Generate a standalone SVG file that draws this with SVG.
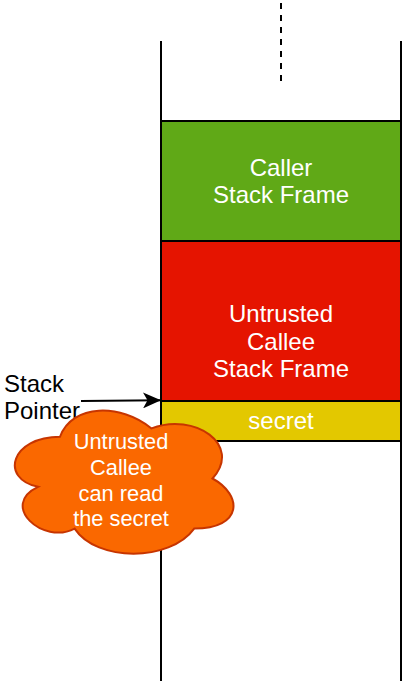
<svg xmlns="http://www.w3.org/2000/svg" width="404" height="684" viewBox="0 0 404 684">
<style>
.ln{stroke:#000;stroke-width:2;fill:none}
.box{stroke:#000;stroke-width:2}
.t{font-family:"Liberation Sans",Arial,sans-serif;font-size:24px;fill:#fff;text-anchor:middle}
.tc{font-family:"Liberation Sans",Arial,sans-serif;font-size:21.8px;fill:#fff;text-anchor:middle}
.tl{font-family:"Liberation Sans",Arial,sans-serif;font-size:24px;fill:#000}
</style>
<defs>
<marker id="ah" markerWidth="18" markerHeight="16" refX="18" refY="8" orient="auto" markerUnits="userSpaceOnUse" viewBox="0 0 18 16">
<path d="M0,0 L18,8 L0,16 L4.5,8 Z" fill="#000"/>
</marker>
</defs>
<rect width="404" height="684" fill="#fff"/>
<g id="stack-walls">
<line class="ln" x1="161" y1="41" x2="161" y2="681"/>
<line class="ln" x1="401" y1="41" x2="401" y2="681"/>
</g>
<g id="caller">
<rect class="box" x="161" y="121" width="240" height="120" fill="#60a917"/>
<text class="t" x="281" y="175.5">Caller</text>
<text class="t" x="281" y="203.3">Stack Frame</text>
</g>
<g id="callee">
<rect class="box" x="161" y="241" width="240" height="160" fill="#e51400"/>
<text class="t" x="281" y="321.7">Untrusted</text>
<text class="t" x="281" y="349.5">Callee</text>
<text class="t" x="281" y="377.3">Stack Frame</text>
</g>
<g id="secret">
<rect class="box" x="161" y="401" width="240" height="40" fill="#e3c800"/>
<text class="t" x="281" y="428.5">secret</text>
</g>
<g id="sp-label">
<text class="tl" x="4" y="391.5">Stack</text>
<text class="tl" x="4" y="419">Pointer</text>
</g>
<g id="cloud" transform="translate(-1,395)">
<path d="M61,41.75 C12.2,41.75 0,83.5 39.04,91.85 C0,110.22 43.92,150.3 75.64,133.6 C97.6,167 170.8,167 195.2,133.6 C244,133.6 244,100.2 213.5,83.5 C244,50.1 195.2,16.7 152.5,33.4 C122,8.35 73.2,8.35 61,41.75 Z" fill="#fa6800" stroke="#c73500" stroke-width="2"/>
</g>
<g id="cloud-text">
<text class="tc" x="121" y="449">Untrusted</text>
<text class="tc" x="121" y="475">Callee</text>
<text class="tc" x="121" y="500.7">can read</text>
<text class="tc" x="121" y="526.3">the secret</text>
</g>
<g id="connectors">
<line class="ln" x1="281" y1="3" x2="281" y2="81" stroke-dasharray="6 6"/>
<line class="ln" x1="81" y1="401" x2="161" y2="400.2" marker-end="url(#ah)"/>
</g>
</svg>
